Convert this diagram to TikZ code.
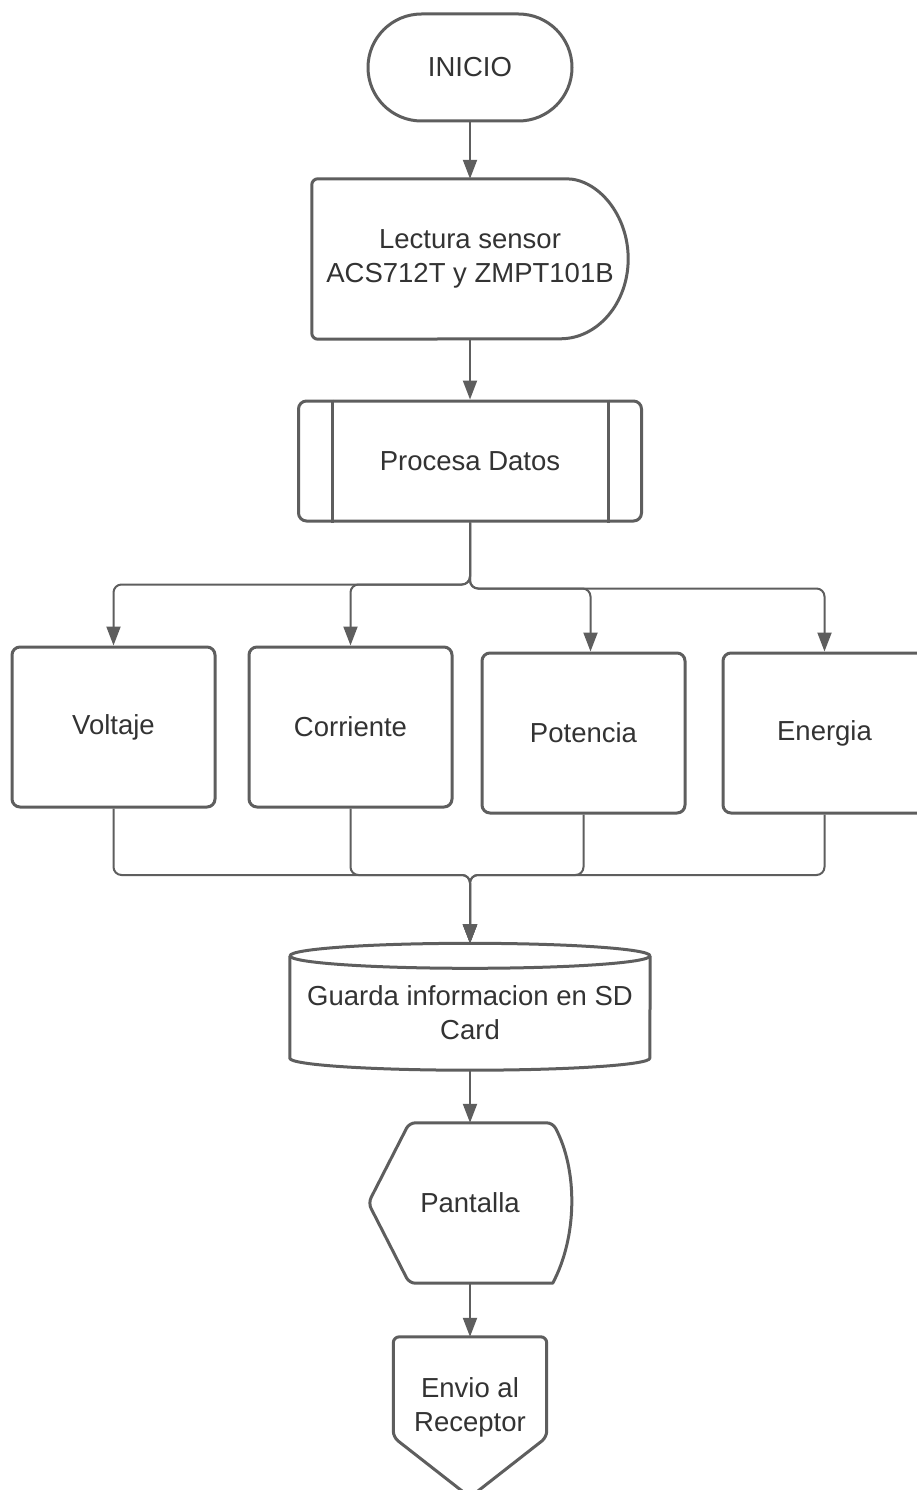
\documentclass[tikz,border=0pt]{standalone}
\usepackage{fontspec}
\setmainfont{Liberation Sans}
\usetikzlibrary{arrows.meta,calc,shapes.misc}
\definecolor{edgegray}{HTML}{5E5E5E}
\definecolor{txtgray}{HTML}{333333}
\newcommand{\quantity}[4]{%
  % #1 node name, #2 x, #3 y, #4 label
  \node[qbox] (#1) at (#2,#3) {#4};
}

\begin{document}
\begin{tikzpicture}[x=1pt,y=-1pt]

% shapes and connectors
\tikzset{
  base/.style={text=txtgray, font=\fontsize{27.5}{34}\selectfont, align=center, inner sep=0pt},
  outline/.style={draw=edgegray, line width=3pt, line join=round},
  qbox/.style={base, outline, rounded corners=8pt, minimum width=203pt, minimum height=160pt},
  flow/.style={draw=edgegray, line width=2pt, rounded corners=8pt, -{Triangle[length=19pt,width=14pt]}},
}

\useasboundingbox[fill=white] (0,0) rectangle (917,1490);

% ---------------- start ----------------
\node[base, outline, rounded rectangle, minimum width=204pt, minimum height=107pt] (ini) at (470,67.5) {INICIO};

% ---------------- sensor reading (delay shape) ----------------
\node[base, minimum width=316pt, minimum height=160pt] (lect) at (470,259) {Lectura sensor\\ACS712T y ZMPT101B};
\draw[outline] ($(lect.north east)+(-68,0)$) arc[start angle=-90, end angle=90, x radius=68, y radius=80]
  [rounded corners=6pt] -- (lect.south west) -- (lect.north west) -- cycle;

% ---------------- processing ----------------
\node[base, outline, rounded corners=8pt, minimum width=343pt, minimum height=120pt] (proc) at (470,461) {Procesa Datos};
\draw[outline] ($(proc.north west)+(35,0)$) -- ($(proc.south west)+(35,0)$);
\draw[outline] ($(proc.north east)+(-35,0)$) -- ($(proc.south east)+(-35,0)$);

% ---------------- measured quantities ----------------
\quantity{volt}{113.5}{727}{Voltaje}
\quantity{corr}{350.5}{727}{Corriente}
\quantity{pot}{583.5}{733}{Potencia}
\quantity{ener}{824.5}{733}{Energia}

% ---------------- SD card (cylinder) ----------------
\node[base, minimum width=360pt, minimum height=114pt] (db) at (470,1013) {Guarda informacion en SD\\Card};
\draw[outline] (db.north west) -- ($(db.south west)+(0,-12)$)
  arc[start angle=180, end angle=0, x radius=180, y radius=12] -- (db.north east);
\draw[outline] (db.north) ellipse[x radius=180, y radius=12.5];
\coordinate (dbtop) at ($(db.north)+(0,-12.5)$);

% ---------------- display ----------------
\node[base, minimum width=203pt, minimum height=160pt] (disp) at (470,1203) {Pantalla};
\draw[outline] ($(disp.north east)+(-19,0)$) .. controls +(25,47) and +(25,-47) .. ($(disp.south east)+(-19,0)$)
  [rounded corners=6pt] -- ($(disp.south west)+(41,0)$) -- (disp.west) -- ($(disp.north west)+(41,0)$) -- cycle;

% ---------------- off-page connector ----------------
\node[base, minimum width=153pt, minimum height=140pt] (send) at (470,1407) {Envio al\\Receptor};
\draw[outline, rounded corners=6pt] (send.north west) -- ($(send.south west)+(0,-40)$) -- ($(send.south)+(0,20)$)
  -- ($(send.south east)+(0,-40)$) -- (send.north east) -- cycle;

% ---------------- connectors ----------------
\draw[flow] (ini.south) -- (lect.north);
\draw[flow] (lect.south) -- (proc.north);

% split
\draw[flow] (proc.south) -- ++(0,62) -| (volt.north);
\draw[flow] (proc.south) -- ++(0,62) -| (corr.north);
\draw[flow] (proc.south) -- ++(0,66) -| ($(pot.north)+(7,0)$);
\draw[flow] (proc.south) -- ++(0,66) -| (ener.north);

% merge
\coordinate (mrg) at (470,875);
\draw[flow] (volt.south) |- (mrg) -- (dbtop);
\draw[flow] (corr.south) |- (mrg) -- (dbtop);
\draw[flow] (pot.south) |- (mrg) -- (dbtop);
\draw[flow] (ener.south) |- (mrg) -- (dbtop);

\draw[flow] (db.south) -- (disp.north);
\draw[flow] (disp.south) -- (send.north);

\end{tikzpicture}
\end{document}
